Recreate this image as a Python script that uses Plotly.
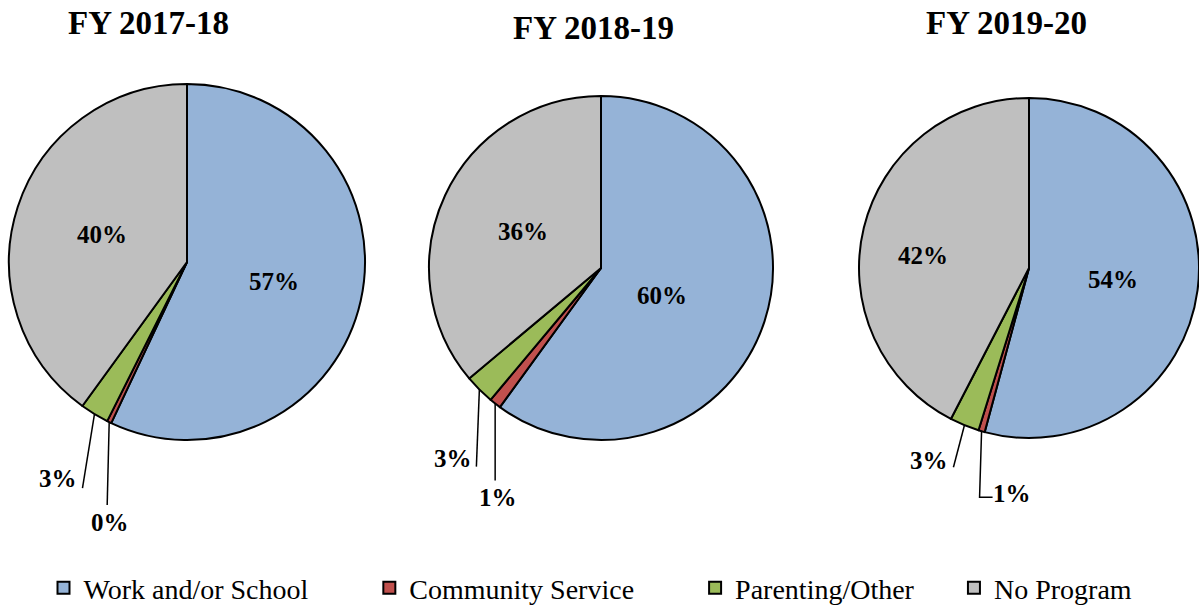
import math
import plotly.graph_objects as go

# ---------------- data ----------------
years = ["FY 2017-18", "FY 2018-19", "FY 2019-20"]
categories = ["Work and/or School", "Community Service", "Parenting/Other", "No Program"]
work = [57.0, 60.0, 54.2]
community = [0.4, 1.1, 0.6]
parenting = [2.6, 2.8, 2.8]
no_program = [40.0, 36.1, 42.4]

# ---------------- style ----------------
colors = ["#95B3D7", "#C0504D", "#9BBB59", "#BFBFBF"]
W, H = 1199, 605
centers = [(187, 262), (601, 268), (1029, 268)]   # pie centres in px
radii = [178, 172, 170]
title_pos = [(148, 23), (593, 28), (1006, 23)]
# inside label placement: (fraction of radius along mid-angle, vertical nudge px)
inside_spec = [[(0.5, 0), None, None, (0.5, 0)],
               [(0.37, 8), None, None, (0.5, 0)],
               [(0.5, 0), None, None, (0.64, 13)]]
legend_pad = [8, 8, 5, 0]   # trailing no-break spaces to widen legend spacing
# leader lines for small slices: (path offsets from slice edge point, text offset)
leaders = {
    (0, 1): ([(0, 0), (-2, 83)], (1, 100)),
    (0, 2): ([(0, 0), (-12, 74)], (-36, 64)),
    (1, 1): ([(0, 0), (0, 77)], (3, 94)),
    (1, 2): ([(0, 0), (-3, 77)], (-26, 69)),
    (2, 1): ([(0, 0), (-2, 66), (11, 66)], (30, 62)),
    (2, 2): ([(0, 0), (-11, 42)], (-35, 35)),
}
SERIF = "Liberation Serif"


def px(x, y):
    return x / W, 1 - y / H


legend_names = [c + "\u00a0" * n for c, n in zip(categories, legend_pad)]

fig = go.Figure()
annotations = []
shapes = []


def add_text(text, x, y, size):
    annotations.append(dict(text=text, x=x, y=y, xref="paper", yref="paper",
                            xanchor="center", yanchor="middle", showarrow=False,
                            font=dict(family=SERIF, size=size, color="black")))


for i, yr in enumerate(years):
    vals = [work[i], community[i], parenting[i], no_program[i]]
    cx, cy = centers[i]
    r = radii[i]
    x0, y1 = px(cx - r, cy - r)
    x1, y0 = px(cx + r, cy + r)
    fig.add_trace(go.Pie(
        labels=legend_names, values=vals, sort=False, direction="clockwise", rotation=0,
        marker=dict(colors=colors, line=dict(color="black", width=2)),
        textinfo="none", hoverinfo="label+percent",
        domain=dict(x=[max(0, x0), min(1, x1)], y=[max(0, y0), min(1, y1)]),
        showlegend=(i == 0), name=yr,
    ))
    tx, ty = px(*title_pos[i])
    add_text(f"<b>{yr}</b>", tx, ty, 33)
    total = sum(vals)
    cum = 0.0
    for j, v in enumerate(vals):
        pct = v / total * 100
        mid = (cum + pct / 2) / 100 * 2 * math.pi
        cum += pct
        label = f"<b>{round(pct):d}%</b>"
        spec = inside_spec[i][j]
        if spec is not None:
            f, nudge = spec
            lx = cx + math.sin(mid) * r * f
            ly = cy - math.cos(mid) * r * f + nudge
            add_text(label, *px(lx, ly), 25)
        else:
            ex = cx + math.sin(mid) * r
            ey = cy - math.cos(mid) * r
            pts, toff = leaders[(i, j)]
            path = ""
            for k, (dx, dy) in enumerate(pts):
                qx, qy = px(ex + dx, ey + dy)
                path += ("M" if k == 0 else " L") + f"{qx:.5f},{qy:.5f}"
            shapes.append(dict(type="path", path=path, xref="paper", yref="paper",
                               line=dict(color="black", width=1.5)))
            add_text(label, *px(ex + toff[0], ey + toff[1]), 25)

fig.update_layout(
    width=W, height=H,
    margin=dict(l=0, r=0, t=0, b=0, autoexpand=False),
    paper_bgcolor="white", plot_bgcolor="white",
    annotations=annotations, shapes=shapes,
    legend=dict(orientation="h", x=0.5 - 9 / W, xanchor="center", y=1 - 588 / H, yanchor="middle",
                font=dict(family=SERIF, size=28, color="black"), traceorder="normal"),
)
fig.write_html("out.html", config={"displayModeBar": False},
               post_script="document.body.style.margin='0';")
